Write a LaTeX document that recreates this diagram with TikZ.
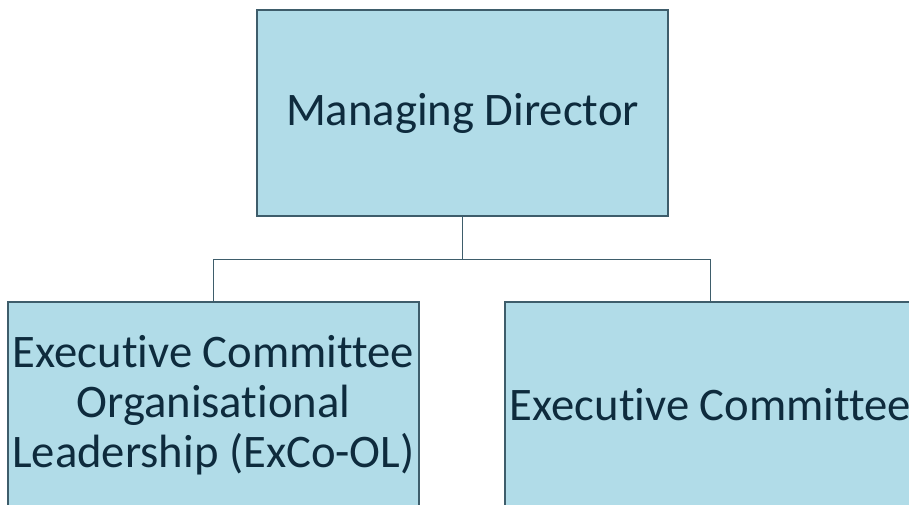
\documentclass[tikz,border=0pt]{standalone}
\usepackage{fontspec}
\setmainfont{Carlito}[Ligatures=NoCommon]
\usepackage{tikz}
\usetikzlibrary{calc}
\definecolor{boxfill}{HTML}{B1DCE8}
\definecolor{boxline}{HTML}{3E5D6B}
\definecolor{boxtext}{HTML}{0E2B3D}
\tikzset{orgbox/.style={draw=boxline, line width=1.2pt, fill=boxfill, text=boxtext,
		minimum width=308pt, minimum height=154.5pt, inner sep=2pt, align=center,
		font=\fontsize{35}{37.5}\selectfont}}
\tikzset{link/.style={draw=boxline, line width=0.9pt}}

\begin{document}
\begin{tikzpicture}[x=0.75pt, y=-0.75pt]
		\clip (0,0) rectangle (909,505);
		\node[orgbox] (md) at (462.5,113) {Managing Director};
		\node[orgbox] (excool) at (213.5,405) {Executive Committee\\Organisational\\Leadership (ExCo-OL)};
		\node[orgbox] (exco) at (710.5,405) {Executive Committee};
		
		\coordinate (fork) at ($(md.south)+(0,43)$);
		\draw[link] (md.south) -- (fork);
		\draw[link] (fork) -| (excool.north);
		\draw[link] (fork) -| (exco.north);
	\end{tikzpicture}
\end{document}
